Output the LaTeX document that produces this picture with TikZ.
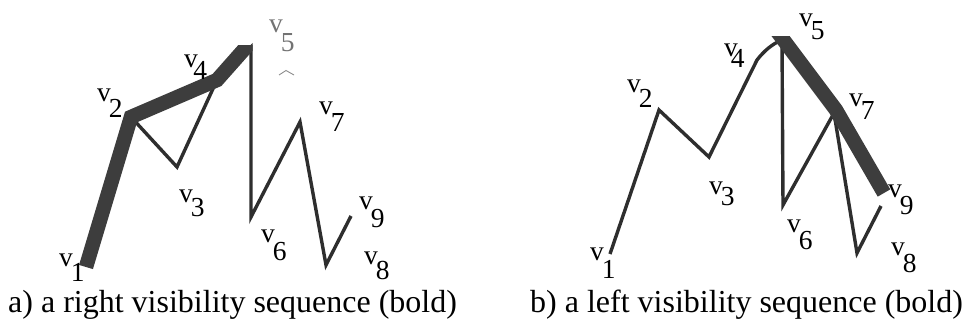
\documentclass[tikz,border=0pt]{standalone}
\usepackage{fontspec}
\setmainfont{Liberation Serif}
\newcommand\vsub[3][-2pt]{v\kern#1\raisebox{#2}{#3}}
\begin{document}
\begin{tikzpicture}[x=1pt,y=-1pt,
  edgeline/.style={line width=3.4pt, draw=black!82, line join=miter},
  boldline/.style={line width=14.5pt, draw=black!76, line join=miter, line cap=butt},
  lab/.style={anchor=base west, inner sep=0pt, font=\fontsize{27.5}{27.5}\selectfont},
  captext/.style={anchor=base west, inner sep=0pt, font=\fontsize{32}{32}\selectfont}]
\useasboundingbox (0,0) rectangle (962,326);
% ---------- panel a ----------
\coordinate (a1) at (86,267);
\coordinate (a2) at (131,117);
\coordinate (a3) at (177,167);
\coordinate (a4) at (217,80);
\coordinate (a5) at (251,47);
\coordinate (a5x) at (256,36);
\coordinate (a6) at (251,217);
\coordinate (a7) at (300,122);
\coordinate (a8) at (326,265);
\coordinate (a9) at (351,216);
\draw[edgeline] (a2) -- (a3) -- (a4) -- (a5) -- (a6) -- (a7) -- (a8) -- (a9);
\begin{scope}
  \clip (0,46) rectangle (252.5,326);
  \draw[boldline] (a1) -- (a2) -- (a4) -- (a5x);
\end{scope}
\node[lab] (la1) at (59,266) {\vsub{-15pt}{1}};
\node[lab] (la2) at (97,102) {\vsub{-16pt}{2}};
\node[lab] (la3) at (179,203) {\vsub{-14pt}{3}};
\node[lab] (la4) at (184,68) {\vsub[-4.5pt]{-12pt}{4}};
\node[lab, text=black!55] (la5) at (269,33) {\vsub{-19pt}{5}};
\node[lab] (la6) at (261,242) {\vsub{-18pt}{6}};
\node[lab] (la7) at (319,115) {\vsub{-17pt}{7}};
\node[lab] (la9) at (359,210) {\vsub{-18pt}{9}};
\node[lab] (la8) at (364,265) {\vsub{-15pt}{8}};
\draw[black!45, line width=0.9pt] (279,75) -- (286,70.5) -- (294,75);
\node[captext] (capa) at (8,312) {a) a right visibility sequence (bold)};
% ---------- panel b ----------
\coordinate (b1) at (610,254);
\coordinate (b2) at (659,110);
\coordinate (b3) at (709,157);
\coordinate (b4) at (757,60);
\coordinate (b5) at (782,40);
\coordinate (b6) at (783,205);
\coordinate (b7) at (834,113);
\coordinate (b8) at (857,253);
\coordinate (b9) at (881,206);
\coordinate (b5x) at (776,30);
\coordinate (b7b) at (836,110);
\coordinate (b9t) at (884,193);
\draw[edgeline] (b1) -- (b2) -- (b3) -- (b4) .. controls (764,51) and (772,44) .. (b5) -- (b6) -- (b7) -- (b8) -- (b9);
\begin{scope}
  \clip (0,36.5) rectangle (962,326);
  \draw[boldline] (b5x) -- (b7b) -- (b9t);
\end{scope}
\node[lab] (lb1) at (590,260) {\vsub{-18pt}{1}};
\node[lab] (lb2) at (627,93) {\vsub{-15pt}{2}};
\node[lab] (lb3) at (709,195) {\vsub{-10pt}{3}};
\node[lab] (lb4) at (724,57) {\vsub[-7pt]{-11pt}{4}};
\node[lab] (lb5) at (799,27) {\vsub{-13pt}{5}};
\node[lab] (lb6) at (787,233) {\vsub{-17pt}{6}};
\node[lab] (lb7) at (849,107) {\vsub{-13pt}{7}};
\node[lab] (lb9) at (888,198) {\vsub{-17pt}{9}};
\node[lab] (lb8) at (891,255) {\vsub{-17pt}{8}};
\node[captext] (capb) at (530,312) {b) a left visibility sequence (bold)};
\end{tikzpicture}
\end{document}
